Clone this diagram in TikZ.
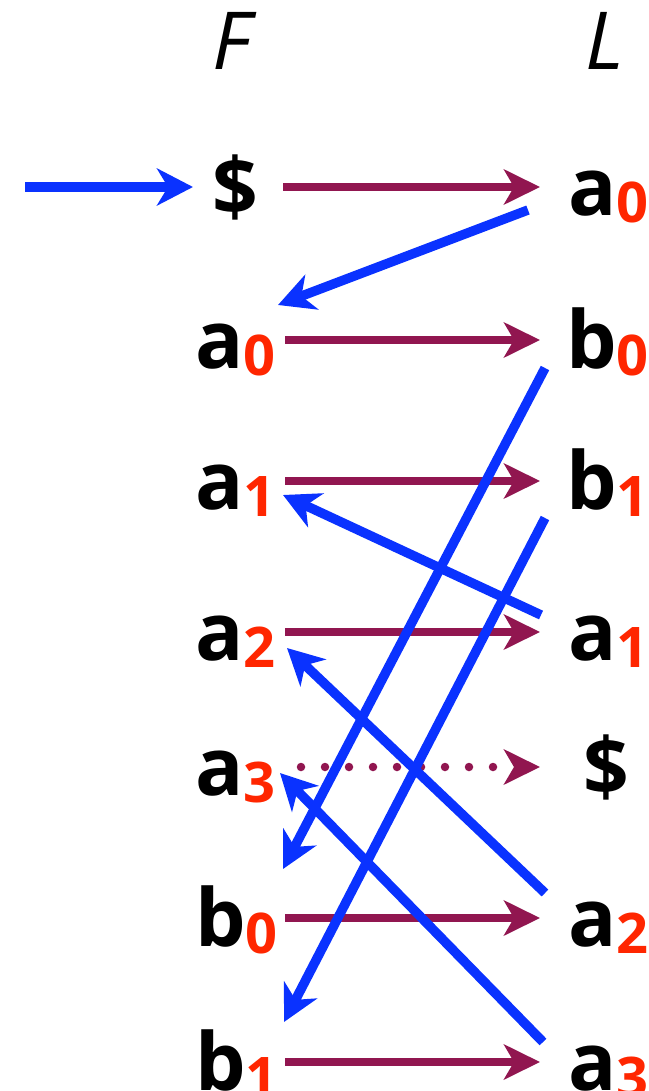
\documentclass[tikz,border=0pt]{standalone}
\usepackage{fontspec}
\setmainfont{Open Sans}
\usetikzlibrary{arrows.meta}
\definecolor{arrblue}{RGB}{10,50,255}
\definecolor{arrpurple}{RGB}{145,22,80}
\definecolor{subred}{RGB}{255,38,0}
\newcommand{\lbl}[2]{#1\raisebox{-7pt}{\color{subred}\fontsize{56}{56}\selectfont #2}}
\newcommand{\lcell}[1]{\makebox[90pt][l]{#1}}
\newcommand{\rcell}[2][28pt]{\makebox[100pt][l]{\hspace{#1}#2}}
\begin{document}
\begin{tikzpicture}[x=1pt,y=-1pt,
  lab/.style={inner sep=0pt, outer sep=0pt, anchor=west,
    font=\bfseries\fontsize{80}{80}\selectfont, text height=60pt, text depth=4pt},
  head/.style={font=\itshape\fontsize{80}{80}\selectfont, anchor=base, inner sep=0pt},
  fwd/.style={arrpurple, line width=8.5pt, -{Stealth[length=36pt,width=35pt,inset=10pt]}},
  fwddot/.style={arrpurple, line width=8.5pt, line cap=round, dash pattern=on 0pt off 24pt,
    shorten <=16pt, -{Stealth[length=36pt,width=35pt,inset=10pt]}},
  back/.style={arrblue, line width=9.5pt, -{Stealth[length=36pt,width=37pt,inset=11pt]}}]
\useasboundingbox (0,0) rectangle (648,1091);

\node[head] (F) at (232,70) {F};
\node[head] (L) at (605,70) {L};

% left column
\node[lab] (l0) at (193,187) {\lcell{\hspace{19pt}\$}};
\node[lab] (l1) at (195,340) {\lcell{\lbl{a}{0}}};
\node[lab] (l2) at (195,481) {\lcell{\lbl{a}{1}}};
\node[lab] (l3) at (195,632) {\lcell{\lbl{a}{2}}};
\node[lab] (l4) at (195,767) {\lcell{\lbl{a}{3}}};
\node[lab] (l5) at (195,918) {\lcell{\lbl{b}{0}}};
\node[lab] (l6) at (195,1062) {\lcell{\lbl{b}{1}}};

% right column
\node[lab] (r0) at (540,187) {\rcell{\lbl{a}{0}}};
\node[lab] (r1) at (540,340) {\rcell[26pt]{\lbl{b}{0}}};
\node[lab] (r2) at (540,481) {\rcell[26pt]{\lbl{b}{1}}};
\node[lab] (r3) at (540,632) {\rcell{\lbl{a}{1}}};
\node[lab] (r4) at (540,767) {\rcell[43pt]{\$}};
\node[lab] (r5) at (540,918) {\rcell{\lbl{a}{2}}};
\node[lab] (r6) at (540,1062) {\rcell{\lbl{a}{3}}};

\coordinate (start) at (25,187);

% forward (F -> L)
\draw[fwd] (l0.east) -- (r0.west);
\draw[fwd] (l1.east) -- (r1.west);
\draw[fwd] (l2.east) -- (r2.west);
\draw[fwd] (l3.east) -- (r3.west);
\draw[fwddot] (l4.east) -- (r4.west);
\draw[fwd] (l5.east) -- (r5.west);
\draw[fwd] (l6.east) -- (r6.west);

% backward (L -> F)
\draw[back] (start) -- (l0.west);
\draw[back] ([shift={(-12,23)}]r0.west) -- ([shift={(-7,-35)}]l1.east);
\draw[back] ([shift={(5,28)}]r1.west) -- ([shift={(-2,-49)}]l5.east);
\draw[back] ([shift={(5,37)}]r2.west) -- ([shift={(-1,-40)}]l6.east);
\draw[back] ([shift={(1,-17)}]r3.west) -- ([shift={(-2,14)}]l2.east);
\draw[back] ([shift={(5,-25)}]r5.west) -- ([shift={(2,16)}]l3.east);
\draw[back] ([shift={(3,-20)}]r6.west) -- ([shift={(-5,6)}]l4.east);
\end{tikzpicture}
\end{document}
